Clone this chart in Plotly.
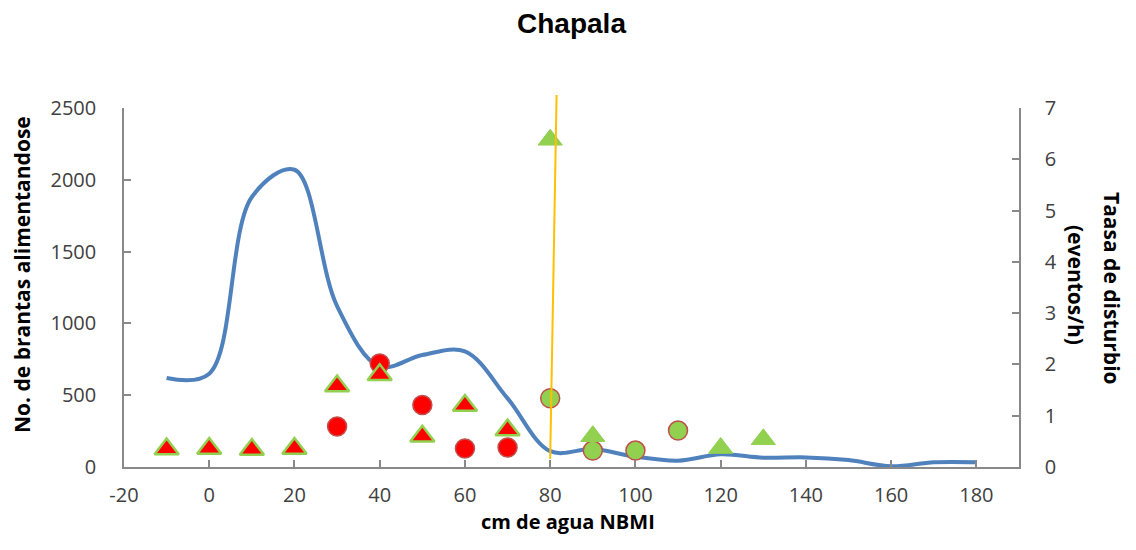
import plotly.graph_objects as go

# ---- data ----
water_cm = [-10, 0, 10, 20, 30, 40, 50, 60, 70, 80, 90, 100, 110, 120, 130, 140, 150, 160, 170, 180]
brantas = [620, 650, 1880, 2070, 1120, 700, 780, 805, 478, 110, 125, 72, 44, 88, 65, 67, 48, 5, 33, 33]

red_tri_x = [-10, 0, 10, 20, 30, 40, 50, 60, 70]
red_tri_y = [0.35, 0.36, 0.34, 0.36, 1.58, 1.80, 0.60, 1.20, 0.72]

green_tri_x = [80, 90, 120, 130]
green_tri_y = [6.38, 0.60, 0.37, 0.54]

red_circ_x = [30, 40, 50, 60, 70]
red_circ_y = [0.79, 2.02, 1.21, 0.36, 0.38]

green_circ_x = [80, 90, 100, 110]
green_circ_y = [1.34, 0.32, 0.32, 0.71]

ref_line_x = [80, 81.5]
ref_line_y = [56, 2590]

x_ticks = [-20, 0, 20, 40, 60, 80, 100, 120, 140, 160, 180]
x_tick_labels = ["-20", "0", "20", "40", "60", "80", "100", "120", "140", "160", "180"]

x_range = [-20, 190]
y_left_range = [0, 2500]
y_right_range = [0, 7]

title_text = "Chapala"
x_title = "cm de agua NBMI"
y_left_title = "No. de brantas alimentandose"
y_right_title_1 = "Taasa de disturbio"
y_right_title_2 = "(eventos/h)"

# ---- layout constants (pixels, page coords minus 8px body margin) ----
OFF = 8
W, H = 1136 - OFF, 550 - OFF
ML, MT = 124 - OFF, 108 - OFF
MR = W - (1019 - OFF)
MB = H - (467 - OFF)
PW = W - ML - MR
PH = H - MT - MB


def px_x(page_x):
    return (page_x - OFF - ML) / PW


def px_y(page_y):
    return (H - MB - (page_y - OFF)) / PH


BLUE = "#4F81BD"
RED = "#FF0000"
GREEN = "#92D050"
AXIS = "#898989"
TICK_FONT = dict(family="Open Sans", size=20, color="#404040")
ROT_TITLE_FONT = dict(family="Open Sans", size=21, color="#000000")
X_TITLE_FONT = dict(family="Open Sans", size=20, color="#000000")

fig = go.Figure()

fig.add_trace(go.Scatter(
    x=water_cm, y=brantas, mode="lines",
    line=dict(color=BLUE, width=4, shape="spline", smoothing=1.0),
    yaxis="y", showlegend=False, hoverinfo="skip"))

fig.add_trace(go.Scatter(
    x=red_circ_x, y=red_circ_y, mode="markers", yaxis="y2",
    marker=dict(symbol="circle", size=19, color=RED, line=dict(color="#C0504D", width=1.5)),
    showlegend=False))

fig.add_trace(go.Scatter(
    x=green_circ_x, y=green_circ_y, mode="markers", yaxis="y2",
    marker=dict(symbol="circle", size=19, color=GREEN, line=dict(color="#C0504D", width=1.5)),
    showlegend=False))

fig.add_trace(go.Scatter(
    x=red_tri_x, y=red_tri_y, mode="markers", yaxis="y2",
    marker=dict(symbol="triangle-up", size=21, color=RED, line=dict(color=GREEN, width=2.5)),
    showlegend=False))

fig.add_trace(go.Scatter(
    x=green_tri_x, y=green_tri_y, mode="markers", yaxis="y2",
    marker=dict(symbol="triangle-up", size=21, color=GREEN, line=dict(color=GREEN, width=1)),
    showlegend=False))

span = y_left_range[1] - y_left_range[0]
fig.add_shape(type="line", xref="x", yref="paper",
              x0=ref_line_x[0], x1=ref_line_x[1],
              y0=(ref_line_y[0] - y_left_range[0]) / span,
              y1=(ref_line_y[1] - y_left_range[0]) / span,
              line=dict(color="#FFC000", width=2))

axis_common = dict(showline=True, linecolor=AXIS, linewidth=1.5, ticks="inside",
                   tickcolor=AXIS, ticklen=7, tickwidth=1.5, showgrid=False,
                   zeroline=False, tickfont=TICK_FONT)

fig.update_layout(
    width=W, height=H,
    margin=dict(l=ML, r=MR, t=MT, b=MB),
    paper_bgcolor="white", plot_bgcolor="white",
    title=dict(text="<b>" + title_text + "</b>", x=0.5, xanchor="center", xref="paper",
               y=1 - (23 - OFF) / H, yanchor="middle", yref="container",
               font=dict(family="Liberation Sans", size=28, color="#000000")),
    xaxis=dict(range=x_range, tickmode="array", tickvals=x_ticks, ticktext=x_tick_labels,
               ticklabelstandoff=9, **axis_common),
    yaxis=dict(range=y_left_range, dtick=500, ticklabelstandoff=22, **axis_common),
    yaxis2=dict(range=y_right_range, dtick=1, overlaying="y", side="right",
                ticklabelstandoff=20, **axis_common),
    showlegend=False,
)

fig.add_annotation(text="<b>" + x_title + "</b>", xref="paper", yref="paper",
                   x=px_x(568), y=px_y(521), xanchor="center", yanchor="middle",
                   showarrow=False, font=X_TITLE_FONT)

fig.add_annotation(text="<b>" + y_left_title + "</b>", textangle=-90,
                   xref="paper", yref="paper",
                   x=px_x(22), y=px_y(275),
                   xanchor="center", yanchor="middle", showarrow=False,
                   font=ROT_TITLE_FONT)

fig.add_annotation(text="<b>" + y_right_title_1 + "</b>", textangle=90,
                   xref="paper", yref="paper",
                   x=px_x(1112), y=px_y(288),
                   xanchor="center", yanchor="middle", showarrow=False,
                   font=ROT_TITLE_FONT)

fig.add_annotation(text="<b>" + y_right_title_2 + "</b>", textangle=90,
                   xref="paper", yref="paper",
                   x=px_x(1076), y=px_y(285),
                   xanchor="center", yanchor="middle", showarrow=False,
                   font=ROT_TITLE_FONT)

fig.write_html("out.html")
